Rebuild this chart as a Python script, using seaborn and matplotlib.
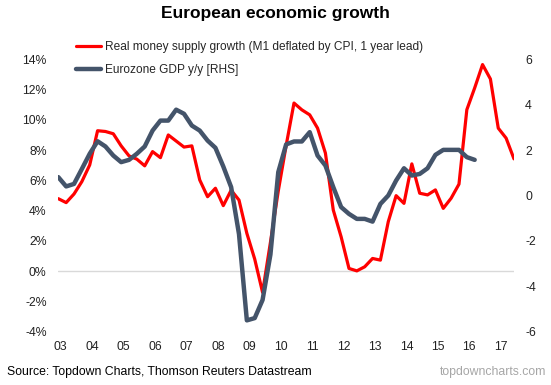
import numpy as np
import pandas as pd
import seaborn as sns
import matplotlib.pyplot as plt

# Real M1 growth (%, 1 year lead) and Eurozone GDP y/y (%), quarterly
money = [4.79, 4.53, 5.1, 5.92, 7.02, 9.28, 9.23, 9.08, 8.28, 7.62, 7.40, 6.96,
         7.9, 7.5, 9.0, 8.6, 8.2, 8.28, 6.03, 4.92, 5.48, 4.33, 5.35, 4.7,
         2.5, 0.8, -1.4, 1.9, 5.3, 8.3, 11.11, 10.66, 10.33, 9.45, 7.8, 4.04,
         2.27, 0.18, 0.02, 0.29, 0.84, 0.73, 3.27, 4.99, 4.48, 7.09, 5.15, 5.04,
         5.37, 4.15, 4.82, 5.75, 10.67, 12.11, 13.65, 12.70, 9.45, 8.79, 7.42]
gdp = [0.81, 0.40, 0.51, 1.17, 1.84, 2.39, 2.16, 1.76, 1.47, 1.57, 1.84, 2.16,
       2.86, 3.30, 3.30, 3.78, 3.60, 3.08, 2.86, 2.42, 2.10, 1.28, 0.37, -1.7,
       -5.5, -5.4, -4.6, -2.6, 1.03, 2.25, 2.38, 2.38, 2.79, 1.76, 1.32, 0.37,
       -0.51, -0.81, -1.03, -1.03, -1.15, -0.37, 0.0, 0.66, 1.20, 0.88, 0.95, 1.20,
       1.79, 2.01, 2.01, 2.01, 1.69, 1.57]
years = list(range(2003, 2018))
year_labels = ['%02d' % (y % 100) for y in years]

start = 2002.92
t_money = start + 0.25 * np.arange(len(money))
t_gdp = start + 0.25 * np.arange(len(gdp))
df_m = pd.DataFrame({'t': t_money, 'v': money})
df_g = pd.DataFrame({'t': t_gdp, 'v': gdp})

sns.set_theme(style='white')
plt.rcParams['font.family'] = ['Liberation Sans', 'DejaVu Sans']
plt.rcParams['axes.unicode_minus'] = False

fig = plt.figure(figsize=(5.51, 3.85), dpi=100)
ax = fig.add_axes([0.1058, 0.1384, 0.827, 0.7076])
ax.axhline(0, color='#D9D9D9', lw=1, zorder=0)
sns.lineplot(data=df_m, x='t', y='v', ax=ax, color='#FF0000', lw=2.3,
             label='Real money supply growth (M1 deflated by CPI, 1 year lead)')
ax2 = ax.twinx()
sns.lineplot(data=df_g, x='t', y='v', ax=ax2, color='#44546A', lw=3.2,
             label='Eurozone GDP y/y [RHS]')

ax.set_xlim(t_money[0], t_money[-1])
ax.set_ylim(-4, 14)
ax2.set_ylim(-6, 6)
ax.set_yticks(range(-4, 15, 2))
ax.set_yticklabels(['%d%%' % v for v in range(-4, 15, 2)])
ax2.set_yticks(range(-6, 7, 2))
ax2.set_yticklabels(['%d' % v for v in range(-6, 7, 2)])
ax.set_xticks(years)
ax.set_xticklabels(year_labels)
for a in (ax, ax2):
    a.set_xlabel('')
    a.set_ylabel('')
    for s in a.spines.values():
        s.set_visible(False)
    a.tick_params(length=0, labelsize=8.8, colors='#222222')
ax.tick_params(axis='y', pad=8.4)
ax.tick_params(axis='x', pad=6.5)
ax2.tick_params(axis='y', pad=8)

h1, l1 = ax.get_legend_handles_labels()
h2, l2 = ax2.get_legend_handles_labels()
ax.get_legend().remove()
ax2.get_legend().remove()
fig.legend(h1 + h2, l1 + l2, loc='upper left', bbox_to_anchor=(0.138, 0.8935),
           frameon=False, fontsize=8.6, borderpad=0, borderaxespad=0,
           handlelength=2.1, handletextpad=0.3, labelspacing=0.95)

fig.text(0.5, 0.9525, 'European economic growth', ha='center', va='baseline',
         fontsize=12.5, fontweight='bold', color='black')
fig.text(7 / 551, 0.034, 'Source: Topdown Charts, Thomson Reuters Datastream',
         ha='left', va='center', fontsize=8.8, color='black')
fig.text(546 / 551, 0.034, 'topdowncharts.com', ha='right', va='center',
         fontsize=8.8, color='#A6A6A6')

fig.savefig('out.png', dpi=100)
